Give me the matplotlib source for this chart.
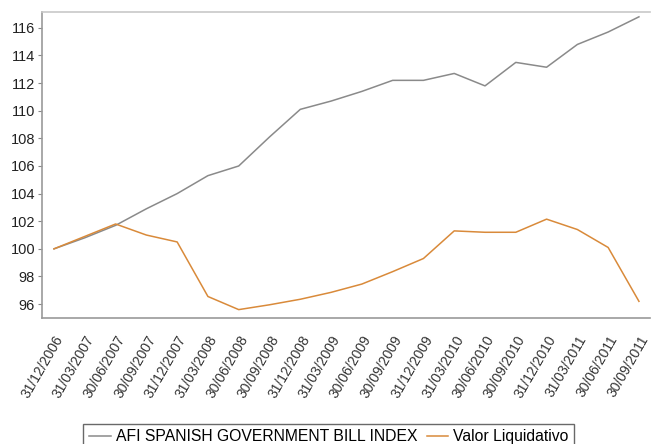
import matplotlib
matplotlib.use("Agg")
import matplotlib.pyplot as plt

plt.rcParams['font.family'] = ['Liberation Sans', 'DejaVu Sans']

dates = ["31/12/2006", "31/03/2007", "30/06/2007", "30/09/2007", "31/12/2007",
         "31/03/2008", "30/06/2008", "30/09/2008", "31/12/2008", "31/03/2009",
         "30/06/2009", "30/09/2009", "31/12/2009", "31/03/2010", "30/06/2010",
         "30/09/2010", "31/12/2010", "31/03/2011", "30/06/2011", "30/09/2011"]

afi_index = [100.0, 100.8, 101.7, 102.9, 104.0, 105.3, 106.0, 108.1, 110.1, 110.7,
             111.4, 112.2, 112.2, 112.7, 111.8, 113.5, 113.15, 114.8, 115.7, 116.8]

valor_liquidativo = [100.0, 100.9, 101.8, 101.0, 100.5, 96.55, 95.6, 95.95, 96.35, 96.85,
                     97.45, 98.35, 99.3, 101.3, 101.2, 101.2, 102.15, 101.4, 100.1, 96.2]

yticks = [96, 98, 100, 102, 104, 106, 108, 110, 112, 114, 116]

fig = plt.figure(figsize=(6.51, 4.44), dpi=100)
ax = fig.add_axes([0.0645, 0.284, 0.934, 0.689])

x = list(range(len(dates)))
ax.plot(x, afi_index, color='#8a8a8a', lw=1.1, label='AFI SPANISH GOVERNMENT BILL INDEX')
ax.plot(x, valor_liquidativo, color='#d98a3a', lw=1.1, label='Valor Liquidativo')

ax.set_xlim(-0.39, 19.36)
ax.set_ylim(95.0, 117.15)
ax.set_yticks(yticks)
ax.set_yticklabels([str(v) for v in yticks], fontsize=10.5, color='#222222')
ax.set_xticks(x)
ax.set_xticklabels(dates, rotation=60, ha='right', rotation_mode='anchor',
                   fontsize=10, color='#333333')
ax.tick_params(axis='x', length=0, pad=11)
ax.tick_params(axis='y', length=3, width=0.8, color='#888888', pad=2)

for s in ['top']:
    ax.spines[s].set_color('#c8c8c8')
    ax.spines[s].set_linewidth(1.2)
for s in ['left', 'bottom']:
    ax.spines[s].set_color('#999999')
    ax.spines[s].set_linewidth(1.2)
ax.spines['right'].set_visible(False)

leg = fig.legend(loc='upper center', bbox_to_anchor=(0.505, 1 - 416 / 444), ncol=2,
                 fontsize=11.3, frameon=True, fancybox=False, handlelength=1.4,
                 handletextpad=0.3, columnspacing=0.6, borderpad=0.35)
leg.get_frame().set_edgecolor('#444444')
leg.get_frame().set_linewidth(1.0)

fig.savefig('out.png', dpi=100)
